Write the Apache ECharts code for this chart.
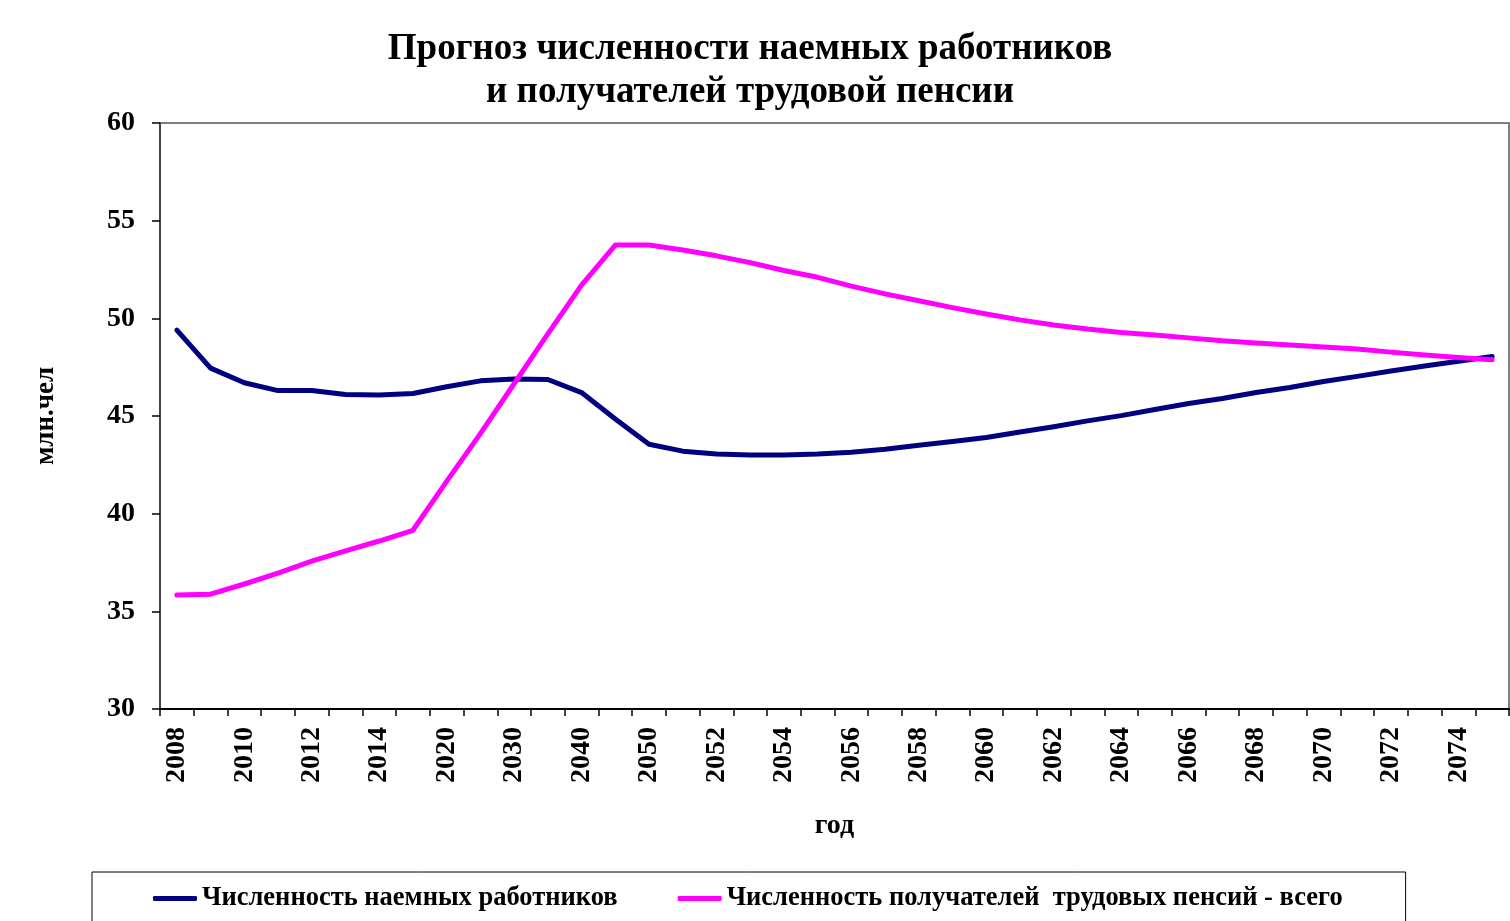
<!DOCTYPE html>
<html>
<head>
<meta charset="utf-8">
<script src="https://cdn.jsdelivr.net/npm/echarts@6/dist/echarts.min.js"></script>
<style>
html,body{margin:0;padding:0;background:#fff;}
#chart{width:1510px;height:921px;}
</style>
</head>
<body>
<div id="chart"></div>
<script>
var years = ['2008','2009','2010','2011','2012','2013','2014','2015','2020','2025','2030','2035','2040','2045',
  '2050','2051','2052','2053','2054','2055','2056','2057','2058','2059','2060','2061','2062','2063','2064',
  '2065','2066','2067','2068','2069','2070','2071','2072','2073','2074','2075'];
var workers = [49.4,47.45,46.7,46.3,46.3,46.1,46.07,46.15,46.5,46.8,46.9,46.87,46.2,44.85,
  43.55,43.2,43.05,43.0,43.0,43.05,43.15,43.3,43.5,43.7,43.9,44.18,44.45,44.75,45.02,
  45.33,45.64,45.9,46.2,46.46,46.77,47.03,47.3,47.56,47.8,48.05];
var pensioners = [35.83,35.88,36.4,36.96,37.57,38.1,38.6,39.15,41.65,44.1,46.65,49.2,51.7,53.75,
  53.75,53.5,53.2,52.85,52.45,52.1,51.65,51.25,50.9,50.55,50.22,49.92,49.66,49.45,49.28,
  49.15,49.0,48.85,48.74,48.63,48.53,48.43,48.27,48.12,48.0,47.88];
var seriesNames = ['Численность наемных работников', 'Численность получателей  трудовых пенсий - всего'];
var titleText = 'Прогноз численности наемных работников\nи получателей трудовой пенсии';

var FONT = "'Liberation Serif', 'Times New Roman', serif";
var chart = echarts.init(document.getElementById('chart'), null, {renderer: 'canvas'});
chart.setOption({
  backgroundColor: '#fff',
  animation: false,
  title: {
    text: titleText,
    left: 745,
    top: 23,
    textAlign: 'center',
    textStyle: {fontFamily: FONT, fontWeight: 'bold', fontSize: 37, lineHeight: 43, color: '#000'}
  },
  legend: {
    left: 92,
    top: 872,
    padding: [13, 63, 30, 61],
    borderColor: '#000',
    borderWidth: 1,
    itemWidth: 44,
    itemHeight: 5,
    itemGap: 60,
    icon: 'roundRect',
    textStyle: {fontFamily: FONT, fontWeight: 'bold', fontSize: 26.5, color: '#000'},
    data: seriesNames
  },
  grid: {
    left: 160, right: 1, top: 123, bottom: 212,
    show: true, borderColor: '#808080', borderWidth: 2, backgroundColor: '#fff',
    containLabel: false
  },
  xAxis: {
    type: 'category',
    data: years,
    boundaryGap: true,
    name: 'год',
    nameLocation: 'middle',
    nameGap: 103,
    nameTextStyle: {fontFamily: FONT, fontWeight: 'bold', fontSize: 28, color: '#000'},
    axisLine: {show: true, lineStyle: {color: '#000', width: 2}},
    axisTick: {show: true, interval: 0, length: 7, lineStyle: {color: '#000', width: 1.5}},
    axisLabel: {interval: 1, rotate: 90, margin: 18, fontFamily: FONT, fontWeight: 'bold', fontSize: 28, color: '#000'},
    splitLine: {show: false}
  },
  yAxis: {
    type: 'value',
    min: 30, max: 60, interval: 5,
    name: 'млн.чел',
    nameLocation: 'middle',
    nameGap: 100,
    nameRotate: 90,
    nameTextStyle: {fontFamily: FONT, fontWeight: 'bold', fontSize: 27, color: '#000'},
    axisLine: {show: true, lineStyle: {color: '#444', width: 2}},
    axisTick: {show: true, inside: false, length: 8, lineStyle: {color: '#000', width: 1.5}},
    axisLabel: {margin: 25, fontFamily: FONT, fontWeight: 'bold', fontSize: 28, color: '#000'},
    splitLine: {show: false}
  },
  series: [
    {
      name: seriesNames[0], type: 'line', data: workers,
      showSymbol: false, symbol: 'none', smooth: false,
      lineStyle: {color: '#000080', width: 5, cap: 'round', join: 'round'},
      itemStyle: {color: '#000080'}
    },
    {
      name: seriesNames[1], type: 'line', data: pensioners,
      showSymbol: false, symbol: 'none', smooth: false,
      lineStyle: {color: '#FF00FF', width: 5, cap: 'round', join: 'round'},
      itemStyle: {color: '#FF00FF'}
    }
  ]
});
</script>
</body>
</html>
